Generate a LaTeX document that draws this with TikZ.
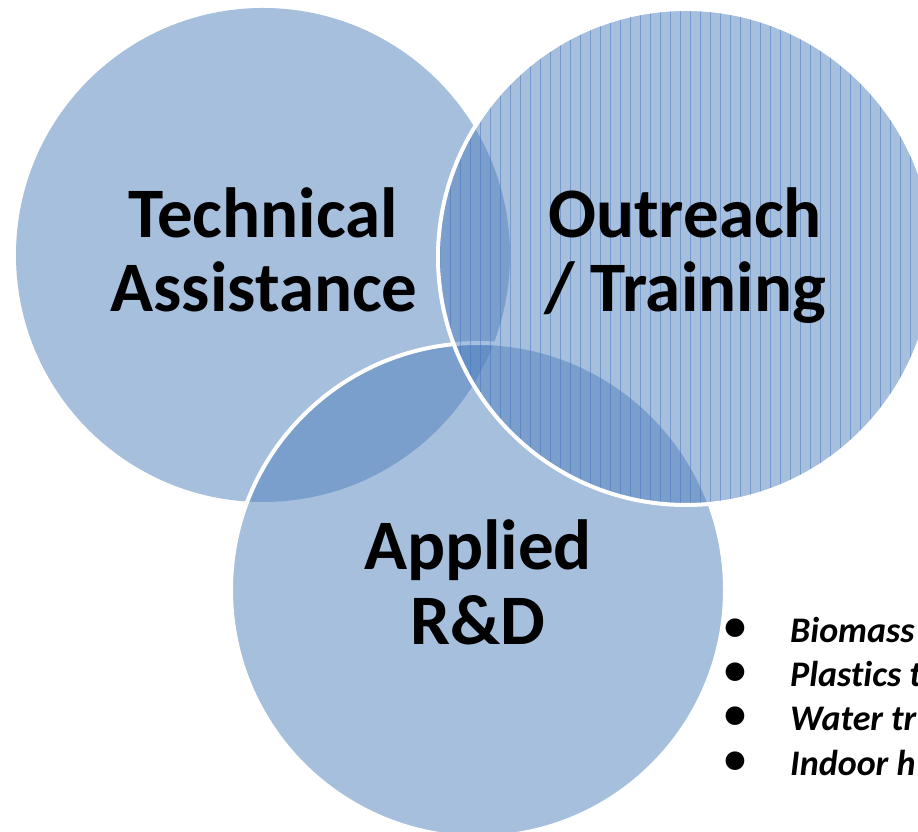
\documentclass[tikz,border=0pt]{standalone}
\usepackage{fontspec}
\setmainfont[Ligatures=NoCommon]{Carlito}
\definecolor{vennblue}{RGB}{79,129,189}
\definecolor{hatchblue}{RGB}{70,115,190}

\tikzset{
  venn/.style={fill=vennblue, fill opacity=.5},
  rim/.style={draw=white, line width=4pt},
  biglabel/.style={font=\fontsize{71}{74}\selectfont\bfseries, anchor=base, inner sep=0pt},
  listitem/.style={font=\fontsize{36}{44}\selectfont\bfseries\itshape, anchor=base west, inner sep=0pt},
  listdot/.style={font=\fontsize{44}{44}\selectfont\bfseries, anchor=base, inner sep=0pt}
}

\begin{document}
\begin{tikzpicture}[line cap=round,line join=round,x=1pt,y=1pt]

\def\r{247} %circle radius
\def\gap{10} %spacing of the hatch lines

\useasboundingbox (0,0) rectangle (918,832);
\clip (0,0) rectangle (918,832);
\fill[white] (0,0) rectangle (918,832);

\coordinate (ta) at (263,577); %technical assistance
\coordinate (ot) at (686,575); %outreach / training
\coordinate (ar) at (478,242); %applied r&d

%left circle
\fill[venn] (ta) circle (\r);

%bottom circle
\fill[venn] (ar) circle (\r);
\draw[rim] (ar) circle (\r);

%right circle, hatched
\fill[venn] (ot) circle (\r+1);
\begin{scope}
\clip (ot) circle (\r+1);
\foreach \x in {440,450,...,940}
  \draw[hatchblue, opacity=.5, line width=.6pt] (\x,320) -- (\x,832);
\end{scope}
\draw[rim] (ot) circle (\r+1);

%labels
\node[biglabel] (ta1) at (263,594) {Technical};
\node[biglabel] (ta2) at (264,520) {Assistance};
\node[biglabel] (ot1) at (685,594) {Outreach};
\node[biglabel] (ot2) at (685,520) {/ Training};
\node[biglabel] (ar1) at (478,262) {Applied};
\node[biglabel] (ar2) at (478,187) {R\&D};

%list
\node[listdot] (d1) at (735,191) {\textbullet};
\node[listdot] (d2) at (735,147) {\textbullet};
\node[listdot] (d3) at (735,103) {\textbullet};
\node[listdot] (d4) at (735,58) {\textbullet};
\node[listitem] (l1) at (790,189) {Biomass};
\node[listitem] (l2) at (790,145) {Plastics t};
\node[listitem] (l3) at (790,101) {Water tr};
\node[listitem] (l4) at (790,56) {Indoor h};

\end{tikzpicture}
\end{document}
